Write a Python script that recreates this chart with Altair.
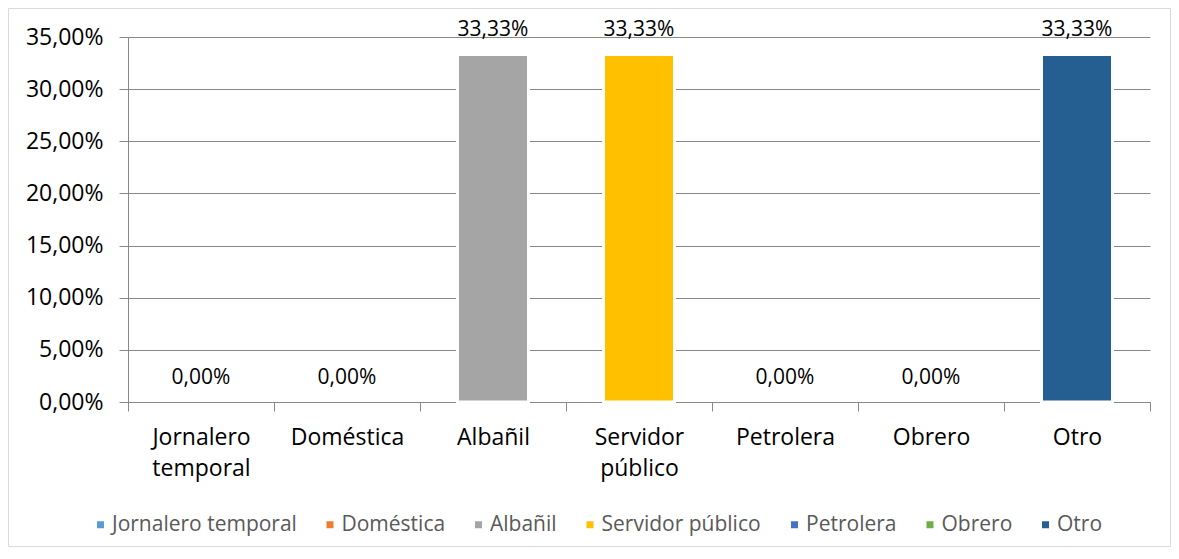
import altair as alt
import pandas as pd

categories = ["Jornalero temporal", "Doméstica", "Albañil", "Servidor público", "Petrolera", "Obrero", "Otro"]
values = [0.0, 0.0, 0.3333, 0.3333, 0.0, 0.0, 0.3333]
colors = ["#5b9bd5", "#ed7d31", "#a5a5a5", "#ffc000", "#4472c4", "#70ad47", "#255e91"]
y_ticks = [0, 0.05, 0.10, 0.15, 0.20, 0.25, 0.30, 0.35]

FONT = "Open Sans"
W, H = 1022, 365

df = pd.DataFrame({"cat": categories, "val": values})

x_enc = alt.X(
    "cat:N",
    sort=categories,
    scale=alt.Scale(paddingInner=0.0, paddingOuter=0.0),
    axis=alt.Axis(
        title=None,
        labelAngle=0,
        labelExpr="split(datum.label, ' ')",
        labelFont=FONT,
        labelFontSize=23,
        labelColor="#000000",
        labelLineHeight=31,
        labelPadding=15,
        labelBaseline="top",
        tickBand="extent",
        tickSize=9,
        tickColor="#888888",
        domainColor="#888888",
        grid=False,
    ),
)
y_enc = alt.Y(
    "val:Q",
    scale=alt.Scale(domain=[0, 0.35], nice=False, zero=True),
    axis=alt.Axis(
        title=None,
        values=y_ticks,
        labelExpr="replace(format(datum.value, '.2%'), '.', ',')",
        labelFont=FONT,
        labelFontSize=23,
        labelColor="#000000",
        labelPadding=16,
        tickSize=9,
        tickColor="#888888",
        domainColor="#888888",
        gridColor="#888888",
        gridWidth=1,
        gridOpacity=1,
    ),
)

base = alt.Chart(df)

bars = base.transform_filter("datum.val > 0").mark_bar(
    width=71, stroke="white", strokeWidth=3, y2Offset=-3.5
).encode(
    x=x_enc,
    y=y_enc,
    color=alt.Color(
        "cat:N",
        sort=categories,
        scale=alt.Scale(domain=categories, range=colors),
        legend=alt.Legend(
            title=None,
            orient="none",
            direction="horizontal",
            columns=7,
            legendX=-38,
            legendY=477,
            symbolType="square",
            symbolSize=49,
            symbolStrokeWidth=0,
            symbolOpacity=1,
            labelFont=FONT,
            labelFontSize=21,
            labelColor="#595959",
            labelOffset=1,
            columnPadding=22.5,
            labelLimit=400,
        ),
    ),
)

labels = base.transform_calculate(
    txt="replace(format(datum.val, '.2%'), '.', ',')"
).mark_text(font=FONT, fontSize=21, color="#000000", baseline="alphabetic", dy=-18.5).encode(
    x=alt.X("cat:N", sort=categories),
    y=alt.Y("val:Q"),
    text="txt:N",
)

border = alt.Chart(pd.DataFrame({"a": [0]})).mark_rect(
    fill=None, stroke="#d9d9d9", strokeWidth=1
).encode(
    x=alt.value(-119.5), x2=alt.value(W + 20.5),
    y=alt.value(-28.5), y2=alt.value(H + 144.5),
)

chart = alt.layer(border, bars, labels).properties(
    width=W,
    height=H,
    autosize=alt.AutoSizeParams(type="none"),
    padding={"left": 120, "top": 29, "right": 21, "bottom": 145},
    background="white",
).configure_view(stroke=None)

chart.save("out.html", embed_options={"renderer": "svg", "actions": False})
